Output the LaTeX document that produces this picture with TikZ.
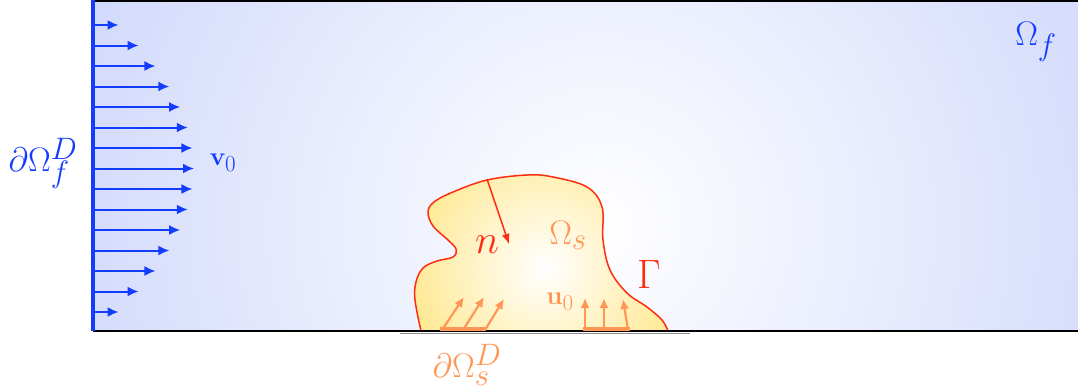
\RequirePackage{fix-cm}
\documentclass[tikz,border=0pt]{standalone}
\usetikzlibrary{arrows.meta}
\DeclareMathSizes{34}{34}{31}{24}
\DeclareMathSizes{41}{41}{32}{26}
\DeclareMathSizes{26}{26}{23}{18}
\definecolor{bgblue}{RGB}{186,198,250}
\definecolor{flowblue}{RGB}{20,60,255}
\definecolor{solidorange}{RGB}{255,150,85}
\definecolor{edgered}{RGB}{255,45,15}
\definecolor{solidyellow}{RGB}{255,225,110}
\tikzset{
  flowarrow/.style={flowblue, line width=2pt, -{Latex[length=11pt,width=10pt]}},
  bcarrow/.style={solidorange, line width=2.2pt, -{Latex[length=10pt,width=9pt]}},
  bigfont/.style={inner sep=0pt, font=\fontsize{34}{40}\selectfont},
  hugefont/.style={inner sep=0pt, font=\fontsize{41}{46}\selectfont},
  midfont/.style={inner sep=0pt, font=\fontsize{26}{30}\selectfont},
}
\begin{document}
\begin{tikzpicture}[x=1pt,y=-1pt]
\useasboundingbox (0,0) rectangle (1078,391);
% fluid domain
\begin{scope}
\clip (93,0) rectangle (1078,331);
\shade[inner color=white, outer color=bgblue] (600,225) circle[radius=850pt];
\end{scope}
\draw[black, line width=2pt] (93,1) -- (1078,1);
\draw[black!45, line width=1pt] (400,333.5) -- (690,333.5);
\draw[black, line width=2.5pt] (93,331) -- (1078,331);
% solid domain
\def\solidpath{plot[smooth, tension=0.6] coordinates {(421,331) (415,300) (416,282) (423,268) (437,261) (453,257) (456,249) (448,240) (433,226) (428,212) (434,202) (453,192) (487,180) (527,175) (553,177) (587,187) (602,207) (603,240) (610,270) (627,293) (647,307) (662,320) (668,331)} -- cycle}
\begin{scope}
\clip \solidpath;
\shade[inner color=white, outer color=solidyellow] (545,268) circle[radius=185pt];
\end{scope}
\draw[edgered, line width=1.5pt] \solidpath;
\draw[black, line width=2.5pt] (400,331) -- (690,331);
% inflow
\draw[flowblue, line width=4pt] (93,0) -- (93,331);
\foreach \i in {0,...,14}{
  \pgfmathsetmacro{\yy}{25+20.5*\i}
  \pgfmathsetmacro{\ll}{101*(1-((\yy-168.5)/166)^2)}
  \coordinate (s\i) at (93,\yy);
  \coordinate (e\i) at (93+\ll,\yy);
  \draw[flowarrow] (s\i) -- (e\i);
}
% normal
\coordinate (nA) at (487,179);
\coordinate (nB) at (509,244);
\draw[edgered, line width=1.5pt, -{Latex[length=10pt,width=8pt]}] (nA) -- (nB);
% boundary arrows on solid
\coordinate (bl1) at (440,329); \coordinate (bl2) at (486,329);
\coordinate (br1) at (583,329); \coordinate (br2) at (630,329);
\draw[solidorange, line width=4pt] (bl1) -- (bl2);
\draw[solidorange, line width=4pt] (br1) -- (br2);
\coordinate (a1) at (442,330); \coordinate (t1) at (464,297);
\coordinate (a2) at (463,330); \coordinate (t2) at (484,297);
\coordinate (a3) at (485,330); \coordinate (t3) at (504,299);
\coordinate (a4) at (585,330); \coordinate (t4) at (585,298);
\coordinate (a5) at (604,330); \coordinate (t5) at (604,298);
\coordinate (a6) at (628,330); \coordinate (t6) at (623,299);
\foreach \k in {1,...,6}{\draw[bcarrow] (a\k) -- (t\k);}
% labels
\node[bigfont, text=flowblue] (lOf) at (1036,42) {$\Omega_f$};
\node[bigfont, text=flowblue] (lbf) at (43,163) {$\partial\Omega_f^D$};
\node[midfont, text=flowblue] (lv) at (223,163) {$\mathbf{v}_0$};
\node[hugefont, text=edgered] (ln) at (487,245) {$n$};
\node[bigfont, text=solidorange] (lOs) at (568,235) {$\Omega_s$};
\node[hugefont, text=edgered] (lG) at (649,274) {$\Gamma$};
\node[midfont, text=solidorange] (lu) at (560,302) {$\mathbf{u}_0$};
\node[bigfont, text=solidorange] (lbs) at (467,365) {$\partial\Omega_s^D$};
\end{tikzpicture}
\end{document}
